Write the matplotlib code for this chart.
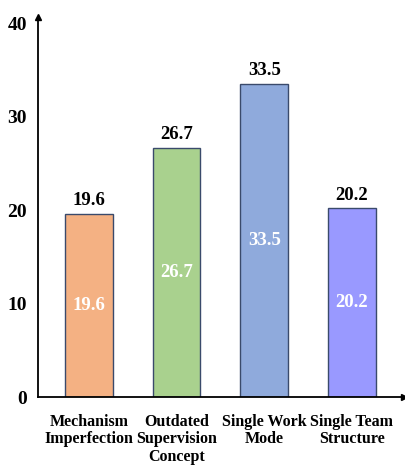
import matplotlib.pyplot as plt
import numpy as np

plt.rcParams['font.family'] = ['Liberation Serif', 'DejaVu Serif']
plt.rcParams['font.weight'] = 'bold'

categories = ['Mechanism\nImperfection', 'Outdated\nSupervision\nConcept',
              'Single Work\nMode', 'Single Team\nStructure']
values = [19.6, 26.7, 33.5, 20.2]
colors = ['#F4B183', '#A9D18E', '#8FAADC', '#9999FF']
yticks = [0, 10, 20, 30, 40]

fig = plt.figure(figsize=(4.06, 4.66), dpi=100)
ax = fig.add_axes([0.094, 0.148, 0.9, 0.816])

x = np.arange(len(categories))
bars = ax.bar(x, values, width=0.545, color=colors,
              edgecolor='#3A4A6B', linewidth=1.0, zorder=2)

for rect, v in zip(bars, values):
    cx = rect.get_x() + rect.get_width() / 2
    ax.text(cx, v + 0.5, f'{v}', ha='center', va='bottom',
            fontsize=13.5, fontweight='bold', color='black')
    ax.text(cx, v / 2, f'{v}', ha='center', va='center',
            fontsize=13.5, fontweight='bold', color='white')

ax.set_xlim(-0.58, 3.59)
ax.set_ylim(0, 40.7)
ax.set_xticks(x)
ax.set_xticklabels(categories, fontsize=11.5, fontweight='bold', linespacing=1.15)
ax.set_yticks(yticks)
ax.set_yticklabels([str(t) for t in yticks], fontsize=14, fontweight='bold')
ax.tick_params(axis='both', length=0)
ax.tick_params(axis='x', pad=12)
ax.tick_params(axis='y', pad=8)

for side in ['top', 'right']:
    ax.spines[side].set_visible(False)
ax.spines['left'].set_linewidth(1.3)
ax.spines['bottom'].set_linewidth(1.3)

# arrow heads on the two axes
ax.plot(1, 0, '>k', markersize=4, transform=ax.transAxes, clip_on=False)
ax.plot(0, 1, '^k', markersize=4, transform=ax.transAxes, clip_on=False)

fig.savefig('out.png', dpi=100)
